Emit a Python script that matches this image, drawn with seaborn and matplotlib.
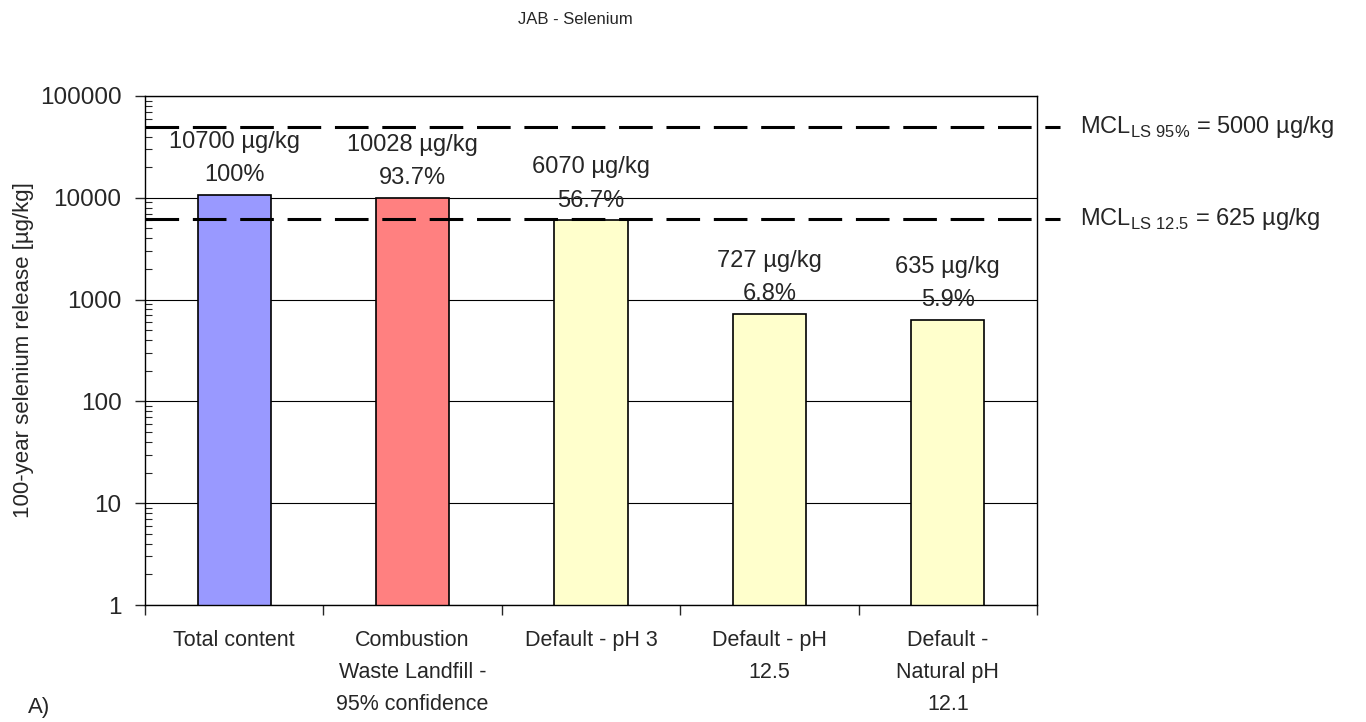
import numpy as np
import pandas as pd
import matplotlib
matplotlib.use("Agg")
import matplotlib.pyplot as plt
import matplotlib.transforms as mtransforms
from matplotlib.ticker import LogLocator, NullFormatter
import seaborn as sns

categories = ["Total content", "Combustion\nWaste Landfill -\n95% confidence",
              "Default - pH 3", "Default - pH\n12.5", "Default -\nNatural pH\n12.1"]
release = [10700, 10028, 6070, 727, 635]
pct_labels = ["100%", "93.7%", "56.7%", "6.8%", "5.9%"]
bar_colors = ["#9999FF", "#FF8080", "#FFFFCC", "#FFFFCC", "#FFFFCC"]
mcl_levels = [50000, 6250]
mcl_labels = [r"MCL$_{\mathrm{LS\ 95\%}}$ = 5000 µg/kg", r"MCL$_{\mathrm{LS\ 12.5}}$ = 625 µg/kg"]

sns.set_style("white")
plt.rcParams["font.family"] = ["Liberation Sans", "DejaVu Sans"]
plt.rcParams["mathtext.fontset"] = "custom"
plt.rcParams["mathtext.rm"] = "Liberation Sans"

df = pd.DataFrame({"cat": categories, "val": release})

fig = plt.figure(figsize=(13.66, 7.22), dpi=100)
ax = fig.add_axes([145 / 1366, 1 - 605 / 722, (1037 - 145) / 1366, (605 - 96) / 722])

sns.barplot(data=df, x="cat", y="val", hue="cat", palette=bar_colors, legend=False,
            width=0.41, edgecolor="black", linewidth=1.2, saturation=1, ax=ax)
ax.set_yscale("log")
ax.set_ylim(1, 100000)
ax.set_xlim(-0.5, len(categories) - 0.5)

# gridlines at decades
ax.yaxis.grid(True, which="major", color="black", linewidth=0.8)
ax.set_axisbelow(True)
ax.yaxis.set_minor_locator(LogLocator(base=10, subs=np.arange(2, 10), numticks=10))
ax.yaxis.set_minor_formatter(NullFormatter())
ax.set_yticks([1, 10, 100, 1000, 10000, 100000])
ax.set_yticklabels(["1", "10", "100", "1000", "10000", "100000"])
ax.tick_params(axis="y", which="major", direction="out", length=7, width=1,
               labelsize=17.5, pad=10, left=True)
ax.tick_params(axis="y", which="minor", direction="in", length=5, width=0.8, left=True)

# category boundary ticks on x axis
ax.set_xticks(np.arange(len(categories) + 1) - 0.5, minor=True)
ax.tick_params(axis="x", which="minor", direction="out", length=7, width=1, bottom=True)
ax.tick_params(axis="x", which="major", length=0, labelsize=15.5, pad=18)
ax.set_xticks(range(len(categories)))
ax.set_xticklabels(categories, linespacing=1.7, va="top")

for sp in ax.spines.values():
    sp.set_color("black")
    sp.set_linewidth(1)

ax.set_xlabel("")
ax.set_ylabel("100-year selenium release [µg/kg]", fontsize=16, labelpad=4)

# dashed MCL lines extending past the right edge
trans = mtransforms.blended_transform_factory(ax.transAxes, ax.transData)
for lvl, lab in zip(mcl_levels, mcl_labels):
    ax.plot([0, 1.026], [lvl, lvl], transform=trans, color="black", linewidth=2.2,
            dashes=(11, 4.5), clip_on=False, zorder=5)
    ax.text(1.048, lvl, lab, transform=trans, fontsize=17, va="center", ha="left")

# value labels above bars
for i, (v, p) in enumerate(zip(release, pct_labels)):
    ax.annotate(p, (i, v), xytext=(0, 6), textcoords="offset points",
                ha="center", va="bottom", fontsize=17)
    ax.annotate(f"{v} µg/kg", (i, v), xytext=(0, 30), textcoords="offset points",
                ha="center", va="bottom", fontsize=17)

fig.text(575 / 1366, 1 - 20 / 722, "JAB - Selenium", ha="center", va="center", fontsize=12)
fig.text(28 / 1366, 1 - 708 / 722, "A)", ha="left", va="center", fontsize=16)

fig.savefig("out.png", dpi=100, facecolor="white")
